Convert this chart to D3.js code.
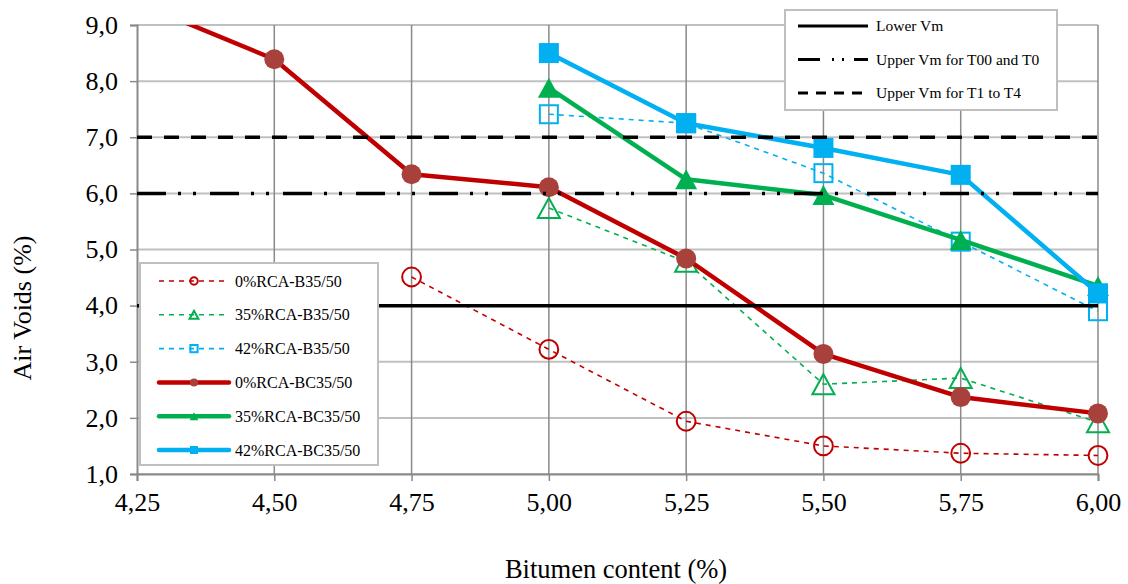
<!DOCTYPE html>
<html>
<head>
<meta charset="utf-8">
<script src="https://cdn.jsdelivr.net/npm/d3@7"></script>
<style>
  body { margin: 0; background: #fff; }
  svg text { font-family: "Liberation Serif", "Times New Roman", serif; fill: #000; }
</style>
</head>
<body>
<script>
// bitumen content (%) on x
const bitumen = [4.25, 4.50, 4.75, 5.00, 5.25, 5.50, 5.75, 6.00];

// air voids (%) per mix, null where not tested
const rca0B   = [null, null, 4.51, 3.22, 1.94, 1.50, 1.37, 1.33];
const rca35B  = [null, null, null, 5.74, 4.78, 2.60, 2.71, 1.92];
const rca42B  = [null, null, null, 7.41, 7.25, 6.36, 5.14, 3.90];
const rca0BC  = [9.40, 8.39, 6.34, 6.11, 4.84, 3.14, 2.37, 2.08];
const rca35BC = [null, null, null, 7.88, 6.25, 5.97, 5.17, 4.35];
const rca42BC = [null, null, null, 8.50, 7.25, 6.81, 6.33, 4.22];

// limit lines
const lowerVm = 4.0;
const upperVmT00 = 6.0;
const upperVmT1 = 7.0;

const yTicks = [1, 2, 3, 4, 5, 6, 7, 8, 9];

const fmt = v => d3.format(".2f")(v).replace(".", ",");
const fmtY = v => d3.format(".1f")(v).replace(".", ",");

const W = 1128, H = 584;
const margin = {top: 25, right: 30, bottom: 110, left: 137};

const svg = d3.select("body").append("svg")
  .attr("width", W).attr("height", H);

const x = d3.scaleLinear().domain([4.25, 6.0]).range([margin.left, W - margin.right]);
const y = d3.scaleLinear().domain([1, 9]).range([H - margin.bottom, margin.top]);

// gridlines
svg.append("g").selectAll("line").data(yTicks).join("line")
  .attr("x1", x(4.25)).attr("x2", x(6.0))
  .attr("y1", d => y(d)).attr("y2", d => y(d))
  .attr("stroke", "#c0c0c0").attr("stroke-width", 2);
svg.append("g").selectAll("line").data(bitumen.slice(1)).join("line")
  .attr("x1", d => x(d)).attr("x2", d => x(d))
  .attr("y1", y(9)).attr("y2", y(1))
  .attr("stroke", "#8a8a8a").attr("stroke-width", 1.5);

// axes
const xAxis = svg.append("g")
  .attr("transform", `translate(0,${y(1)})`)
  .call(d3.axisBottom(x).tickValues(bitumen).tickFormat(fmt).tickSize(7).tickPadding(8));
const yAxis = svg.append("g")
  .attr("transform", `translate(${x(4.25)},0)`)
  .call(d3.axisLeft(y).tickValues(yTicks).tickFormat(fmtY).tickSize(7).tickPadding(12));
[xAxis, yAxis].forEach(a => {
  a.select(".domain").attr("stroke", "#8a8a8a").attr("stroke-width", 2);
  a.selectAll(".tick line").attr("stroke", "#8a8a8a").attr("stroke-width", 1.5);
  a.selectAll("text").style("font-family", "Liberation Serif").style("font-size", "26px");
});
xAxis.selectAll("text").attr("dy", "0.85em");

// axis titles
svg.append("text").attr("x", 616).attr("y", 578).attr("text-anchor", "middle")
  .style("font-size", "26.5px").text("Bitumen content (%)");
svg.append("text").attr("transform", "translate(31,308) rotate(-90)").attr("text-anchor", "middle")
  .style("font-size", "26px").text("Air Voids (%)");

// clip lines at top of plot
svg.append("clipPath").attr("id", "plot").append("rect")
  .attr("x", 0).attr("y", margin.top).attr("width", W).attr("height", H);

const series = [
  {name: "0%RCA-B35/50",   vals: rca0B,   color: "#c00000", fill: "none", marker: "circle",   dashed: true},
  {name: "35%RCA-B35/50",  vals: rca35B,  color: "#00b050", fill: "none", marker: "triangle", dashed: true},
  {name: "42%RCA-B35/50",  vals: rca42B,  color: "#00b0f0", fill: "none", marker: "square",   dashed: true},
  {name: "0%RCA-BC35/50",  vals: rca0BC,  color: "#c00000", fill: "#a8403c", marker: "circle",   dashed: false},
  {name: "35%RCA-BC35/50", vals: rca35BC, color: "#00b050", fill: "#00b050", marker: "triangle", dashed: false},
  {name: "42%RCA-BC35/50", vals: rca42BC, color: "#00b0f0", fill: "#00b0f0", marker: "square",   dashed: false}
];

const line = d3.line()
  .defined(d => d.v != null)
  .x(d => x(d.b)).y(d => y(d.v));

function drawMarker(g, s, size) {
  const open = s.fill === "none";
  if (s.marker === "circle") {
    g.append("circle").attr("r", open ? size * 0.47 : size / 2)
      .attr("fill", open ? "none" : s.fill)
      .attr("stroke", open ? s.color : "none").attr("stroke-width", 2);
  } else if (s.marker === "square") {
    const sz = open ? size * 0.9 : size;
    g.append("rect").attr("x", -sz / 2).attr("y", -sz / 2).attr("width", sz).attr("height", sz)
      .attr("fill", open ? "none" : s.fill)
      .attr("stroke", open ? s.color : "none").attr("stroke-width", 2);
  } else {
    const h = size, w = size * 1.1;
    g.append("path").attr("d", `M0,${-h / 2}L${w / 2},${h / 2}L${-w / 2},${h / 2}Z`)
      .attr("fill", open ? "none" : s.fill)
      .attr("stroke", open ? s.color : "none").attr("stroke-width", 2);
  }
}

series.forEach(s => {
  const pts = bitumen.map((b, i) => ({b, v: s.vals[i]}));
  const g = svg.append("g");
  g.append("path").datum(pts)
    .attr("clip-path", "url(#plot)")
    .attr("d", line)
    .attr("fill", "none")
    .attr("stroke", s.color)
    .attr("stroke-width", s.dashed ? 1.6 : 4.5)
    .attr("stroke-dasharray", s.dashed ? "5,5" : null)
    .attr("stroke-linejoin", "round");
  pts.filter(d => d.v != null && d.v <= 9).forEach(d => {
    const m = g.append("g").attr("transform", `translate(${x(d.b)},${y(d.v)})`);
    drawMarker(m, s, 20);
  });
});

// limit lines drawn on top
const limits = [
  {name: "Lower Vm", v: lowerVm, dash: null, legDash: null},
  {name: "Upper Vm for T00 and T0", v: upperVmT00, dash: "29,12,3,12,3,14", legDash: "22,12,2,8,2,10,24"},
  {name: "Upper Vm for T1 to T4", v: upperVmT1, dash: "15,12", legDash: "10,8"}
];

limits.forEach(l => {
  svg.append("line").attr("x1", x(4.25)).attr("x2", x(6.0))
    .attr("y1", y(l.v)).attr("y2", y(l.v))
    .attr("stroke", "#000").attr("stroke-width", 3.5)
    .attr("stroke-dasharray", l.dash);
});

// legend for mixes (white box covers part of the lower limit line)
const leg = svg.append("g").attr("transform", "translate(140,263)");
leg.append("rect").attr("width", 238).attr("height", 202)
  .attr("fill", "#fff").attr("stroke", "#bfbfbf").attr("stroke-width", 2);
series.forEach((s, i) => {
  const row = leg.append("g").attr("transform", `translate(0,${18 + i * 33.8})`);
  row.append("line").attr("x1", 19).attr("x2", 89)
    .attr("stroke", s.color)
    .attr("stroke-width", s.dashed ? 1.6 : 4.5)
    .attr("stroke-dasharray", s.dashed ? "5,5" : null)
    .attr("stroke-linecap", s.dashed ? "butt" : "round");
  const m = row.append("g").attr("transform", "translate(54,0)");
  drawMarker(m, s, 8);
  row.append("text").attr("x", 95).attr("dy", "0.35em")
    .style("font-size", "16px").text(s.name);
});

// legend for limit lines
const leg2 = svg.append("g").attr("transform", "translate(785,10)");
leg2.append("rect").attr("width", 272).attr("height", 100)
  .attr("fill", "#fff").attr("stroke", "#bfbfbf").attr("stroke-width", 2);
limits.forEach((l, i) => {
  const row = leg2.append("g").attr("transform", `translate(0,${16 + i * 33.5})`);
  row.append("line").attr("x1", 13).attr("x2", 83)
    .attr("stroke", "#000").attr("stroke-width", 3)
    .attr("stroke-dasharray", l.legDash);
  row.append("text").attr("x", 91).attr("dy", "0.35em")
    .style("font-size", "15.5px").text(l.name);
});
</script>
</body>
</html>
